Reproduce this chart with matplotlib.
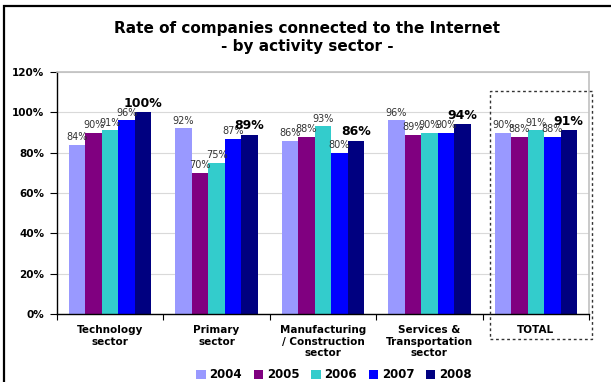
import matplotlib
matplotlib.use("Agg")
import matplotlib.pyplot as plt
from matplotlib.patches import Rectangle
import numpy as np

plt.rcParams['font.family'] = ['DejaVu Sans']

# Data
sectors = ["Technology\nsector", "Primary\nsector", "Manufacturing\n/ Construction\nsector",
           "Services &\nTransportation\nsector", "TOTAL"]
years = ["2004", "2005", "2006", "2007", "2008"]
rate_2004 = [84, 92, 86, 96, 90]
rate_2005 = [90, 70, 88, 89, 88]
rate_2006 = [91, 75, 93, 90, 91]
rate_2007 = [96, 87, 80, 90, 88]
rate_2008 = [100, 89, 86, 94, 91]
yticks = [0, 20, 40, 60, 80, 100, 120]

series = [rate_2004, rate_2005, rate_2006, rate_2007, rate_2008]
colors = ["#9999FF", "#800080", "#33CCCC", "#0000FF", "#000080"]

W, H = 611, 382
fig = plt.figure(figsize=(W / 100, H / 100), dpi=100)
ax = fig.add_axes([57 / W, 1 - 314 / H, (589 - 57) / W, (314 - 72) / H])

x = np.arange(len(sectors))
bw = 0.155
for j, (vals, col, yr) in enumerate(zip(series, colors, years)):
    pos = x + (j - 2) * bw
    ax.bar(pos, vals, width=bw, color=col, label=yr, zorder=2, linewidth=0)
    for xp, v in zip(pos, vals):
        if j == 4:
            ax.text(xp, v + 1.2, f"{v}%", ha="center", va="bottom",
                    fontsize=9, fontweight="bold", color="black", zorder=3)
        else:
            ax.text(xp, v + 1.2, f"{v}%", ha="center", va="bottom",
                    fontsize=7, color="#333333", zorder=3)

ax.set_xlim(-0.5, len(sectors) - 0.5)
ax.set_ylim(0, 120)
ax.set_yticks(yticks)
ax.set_yticklabels([f"{t}%" for t in yticks], fontsize=7.5, fontweight="bold")
ax.yaxis.grid(True, color="#d9d9d9", linewidth=0.8, zorder=0)
ax.set_axisbelow(True)

# category boundaries as ticks, labels centered in between
ax.set_xticks(np.arange(-0.5, len(sectors) + 0.5, 1.0))
ax.set_xticklabels([])
ax.set_xticks(x, minor=True)
ax.set_xticklabels(sectors, minor=True, fontsize=7.5, fontweight="bold", va="top")
ax.tick_params(axis="x", which="minor", length=0, pad=8)
ax.tick_params(axis="x", which="major", length=4, direction="out", width=0.8)
ax.tick_params(axis="y", length=5, direction="out", width=0.8, pad=4)

for s in ["left", "bottom"]:
    ax.spines[s].set_color("black")
    ax.spines[s].set_linewidth(1.0)
for s in ["top", "right"]:
    ax.spines[s].set_color("#c0c0c0")
    ax.spines[s].set_linewidth(1.2)

# Title
fig.text(307 / W, 1 - 28 / H, "Rate of companies connected to the Internet",
         ha="center", va="center", fontsize=11, fontweight="bold")
fig.text(307 / W, 1 - 47 / H, "- by activity sector -",
         ha="center", va="center", fontsize=11, fontweight="bold")

# Legend
fig.legend(loc="center", bbox_to_anchor=(334 / W, 1 - 375 / H), ncol=5,
           frameon=False, handlelength=0.8, handleheight=0.8,
           handletextpad=0.3, columnspacing=1.0,
           prop={"weight": "bold", "size": 8.5}, borderaxespad=0)

# Outer chart frame
frame = Rectangle((4 / W, -0.05), 1.1, 1 - 6 / H + 0.05, transform=fig.transFigure,
                  fill=False, edgecolor="black", linewidth=1.6, clip_on=False)
fig.patches.append(frame)

# Dotted box around the TOTAL group
box = Rectangle((490 / W, 1 - 339 / H), (592 - 490) / W, (339 - 91) / H,
                transform=fig.transFigure, fill=False, edgecolor="#333333",
                linewidth=1.0, linestyle=(0, (2, 2)), clip_on=False, zorder=5)
fig.patches.append(box)

fig.savefig("out.png", dpi=100)
